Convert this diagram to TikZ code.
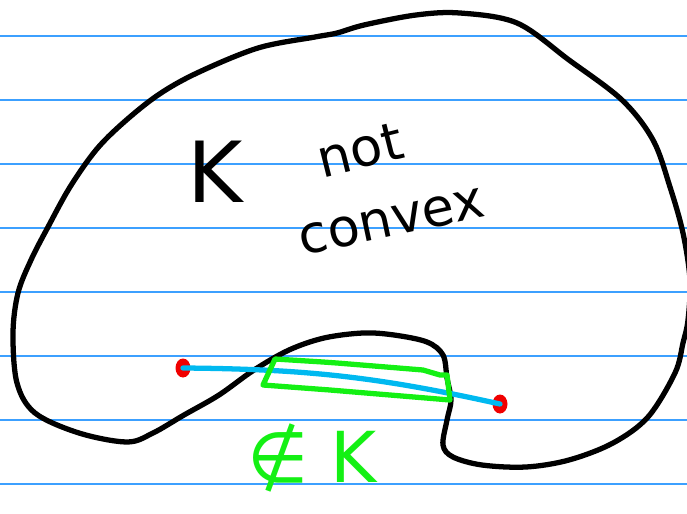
\documentclass[tikz,border=0pt]{standalone}
\usepackage{fontspec}
\setmainfont{DejaVu Sans}
\usetikzlibrary{shapes.geometric}
\definecolor{ruleblue}{RGB}{60,160,255}
\definecolor{segblue}{RGB}{0,185,240}
\definecolor{dotred}{RGB}{240,0,0}
\definecolor{marker}{RGB}{20,240,20}
\begin{document}
\begin{tikzpicture}[x=0.02cm, y=-0.02cm,
  rule/.style={draw=ruleblue, line width=0.8pt},
  ink/.style={line width=3pt, line cap=round, line join=round},
  dot/.style={ellipse, fill=dotred, inner sep=0pt, minimum width=0.3cm, minimum height=0.38cm},
  word/.style={inner sep=0pt, font=\fontsize{30}{32}\selectfont}]

\useasboundingbox (0,0) rectangle (687,514);
\clip (0,0) rectangle (687,514);

% Ruled paper
\foreach \y in {36,100,...,484}
  \draw[rule] (0,\y) -- (687,\y);

% The set K
\draw[ink] plot[smooth cycle, tension=0.55] coordinates {
  (127,442) (79,433) (35,413) (17,383) (13,333) (18,293) (31,260) (48,227)
  (70,187) (96,150) (123,123) (158,95) (197,73) (258,48) (315,37) (337,33)
  (364,25) (416,15) (460,13) (517,23) (569,60) (622,100) (653,140) (670,187)
  (683,233) (690,280) (688,320) (683,343) (675,373) (648,417) (613,443)
  (569,460) (526,467) (482,465) (453,457) (443,445) (447,420) (451,400)
  (447,378) (443,355) (427,342) (394,335) (363,333) (324,338) (289,350)
  (254,370) (219,395) (184,415) (153,433)};

% Labels
\node[inner sep=0pt, font=\fontsize{48}{50}\selectfont] (kname) at (215,172) {K};
\node[word, rotate=14] (knot) at (360,150) {not};
\node[word, rotate=12] (kconvex) at (392,222) {convex};

% Points and segment
\node[dot] (pL) at (183,368) {};
\node[dot] (pR) at (500,404) {};
\draw[ink, draw=segblue] (pL.center) to[bend left=6] (pR.center);

% Part of the segment outside K
\draw[ink, draw=marker] (275,359) -- (323,362) -- (337,363) -- (423,370)
  -- (440,375) -- (447,375) -- (450,400) -- (330,390) -- (263,385) -- cycle;
\node[inner sep=0pt, text=marker, font=\fontsize{40}{42}\selectfont] (outK) at (312,458) {∉ K};

\end{tikzpicture}
\end{document}
